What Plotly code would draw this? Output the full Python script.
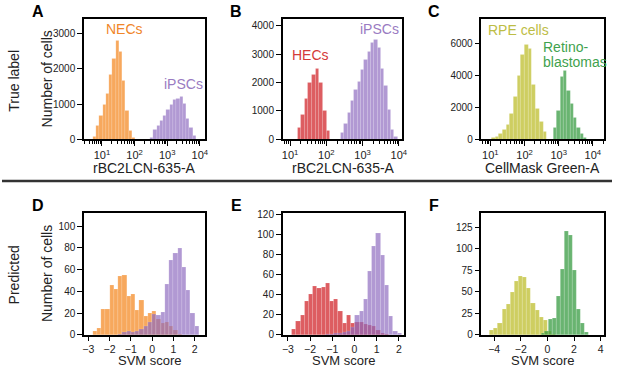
import math
import plotly.graph_objects as go

# ---------------- data ----------------
# Panel A  (x = log10 rBC2LCN-635-A)
a_nec_start, a_nec_width = 0.72, 0.10
a_nec_counts = [80, 380, 680, 980, 1300, 1850, 2300, 2800, 2500, 1680, 820, 250, 60]
a_ipsc_start, a_ipsc_width = 2.48, 0.10
a_ipsc_counts = [60, 280, 400, 520, 660, 840, 980, 1120, 1170, 1210, 1000, 600, 330, 110]

# Panel B  (x = log10 rBC2LCN-635-A)
b_hec_start, b_hec_width = 1.20, 0.10
b_hec_counts = [420, 870, 1440, 1990, 2280, 2490, 2010, 1010, 300]
b_ipsc_start, b_ipsc_width = 2.40, 0.092
b_ipsc_counts = [250, 550, 950, 1350, 1750, 2050, 2450, 2800, 3100, 3400, 3520, 3250,
                 2500, 1900, 1050, 350, 90]

# Panel C  (x = log10 CellMask Green-A)
c_rpe_start, c_rpe_width = 1.03, 0.108
c_rpe_counts = [90, 180, 340, 600, 950, 1600, 2700, 4000, 5300, 5950, 5650, 3400, 1950, 1100, 480]
c_rb_start, c_rb_width = 2.85, 0.097
c_rb_counts = [740, 1800, 3950, 4300, 3080, 2220, 1370, 720, 340, 120]

# Panel D  (SVM score)
d_nec_start, d_nec_width = -2.8, 0.2
d_nec_counts = [3, 6, 24, 24, 46, 42, 54, 55, 36, 37, 23, 32, 17, 20, 22, 14, 11, 12, 8, 4, 1]
d_ipsc_start, d_ipsc_width = -1.6, 0.2
d_ipsc_counts = [1, 2, 3, 2, 3, 5, 8, 12, 19, 18, 21, 47, 69, 75, 80, 62, 41, 20, 8]

# Panel E  (SVM score)
e_hec_start, e_hec_width = -2.82, 0.19
e_hec_counts = [6, 14, 20, 33, 40, 48, 46, 47, 51, 33, 35, 24, 12, 20, 12, 13, 13, 11, 10, 9, 5, 2, 1]
e_ipsc_start, e_ipsc_width = -1.30, 0.19
e_ipsc_counts = [1, 1, 2, 2, 3, 4, 8, 20, 24, 35, 63, 88, 101, 79, 49, 19, 4, 2]

# Panel F  (SVM score)
f_rpe_start, f_rpe_width = -4.34, 0.31
f_rpe_counts = [5, 8, 14, 30, 36, 49, 62, 68, 67, 54, 37, 29, 20, 17, 4, 1]
f_rb_start, f_rb_width = -0.48, 0.30
f_rb_counts = [2, 4, 18, 19, 45, 76, 120, 115, 75, 30, 14, 3]

log_tick_vals = [1, 2, 3, 4]
log_tick_text = ["10<sup>1</sup>", "10<sup>2</sup>", "10<sup>3</sup>", "10<sup>4</sup>"]

# ---------------- styling ----------------
W, H = 617, 372
FONT = "Arial, Liberation Sans, sans-serif"
ORANGE = "rgba(244,140,42,0.76)"
PURPLE = "rgba(140,104,190,0.68)"
RED = "rgba(212,48,52,0.78)"
OLIVE = "rgba(192,192,52,0.78)"
GREEN = "rgba(52,154,64,0.74)"


def fx(px):
    return px / W


def fy(py):
    return 1 - py / H


def bars(start, width, counts, color, xa, ya):
    xs = [start + (i + 0.5) * width for i in range(len(counts))]
    return go.Bar(x=xs, y=counts, width=width,
                  marker=dict(color=color, line=dict(width=0.4, color="rgba(255,255,255,0.35)")),
                  xaxis=xa, yaxis=ya, showlegend=False, hoverinfo="x+y")


fig = go.Figure()
fig.add_trace(bars(a_nec_start, a_nec_width, a_nec_counts, ORANGE, "x", "y"))
fig.add_trace(bars(a_ipsc_start, a_ipsc_width, a_ipsc_counts, PURPLE, "x", "y"))
fig.add_trace(bars(b_hec_start, b_hec_width, b_hec_counts, RED, "x2", "y2"))
fig.add_trace(bars(b_ipsc_start, b_ipsc_width, b_ipsc_counts, PURPLE, "x2", "y2"))
fig.add_trace(bars(c_rpe_start, c_rpe_width, c_rpe_counts, OLIVE, "x3", "y3"))
fig.add_trace(bars(c_rb_start, c_rb_width, c_rb_counts, GREEN, "x3", "y3"))
fig.add_trace(bars(d_nec_start, d_nec_width, d_nec_counts, ORANGE, "x4", "y4"))
fig.add_trace(bars(d_ipsc_start, d_ipsc_width, d_ipsc_counts, PURPLE, "x4", "y4"))
fig.add_trace(bars(e_hec_start, e_hec_width, e_hec_counts, RED, "x5", "y5"))
fig.add_trace(bars(e_ipsc_start, e_ipsc_width, e_ipsc_counts, PURPLE, "x5", "y5"))
fig.add_trace(bars(f_rpe_start, f_rpe_width, f_rpe_counts, OLIVE, "x6", "y6"))
fig.add_trace(bars(f_rb_start, f_rb_width, f_rb_counts, GREEN, "x6", "y6"))

base = dict(showline=True, linecolor="black", linewidth=1.6, mirror=True, ticks="outside",
            ticklen=5, tickwidth=1.4, tickcolor="black", showgrid=False, zeroline=False,
            tickfont=dict(family=FONT, size=10, color="#222"), fixedrange=True)

minor_vals = [math.log10(k * 10 ** n) for n in range(0, 5) for k in range(2, 10)]


def logx(domain, rng):
    d = dict(base)
    d.update(domain=domain, range=rng, tickmode="array", tickvals=log_tick_vals, ticktext=log_tick_text,
             tickfont=dict(family=FONT, size=11, color="#222"),
             minor=dict(tickmode="array", tickvals=minor_vals, ticks="outside", ticklen=2.5,
                        tickwidth=1, tickcolor="black"))
    return d


def linx(domain, rng, dtick):
    d = dict(base)
    d.update(domain=domain, range=rng, dtick=dtick, tick0=0, ticklen=4,
             tickfont=dict(family=FONT, size=10.5, color="#222"))
    return d


def liny(domain, rng, dtick, anchor):
    d = dict(base)
    d.update(domain=domain, range=rng, dtick=dtick, tick0=0, anchor=anchor)
    return d


top = [fy(139), fy(15)]
bot = [fy(340), fy(215)]

fig.update_layout(
    width=W, height=H, margin=dict(l=0, r=0, t=0, b=0),
    paper_bgcolor="white", plot_bgcolor="white", barmode="overlay", bargap=0,
    font=dict(family=FONT, color="#222"),
    xaxis=dict(logx([fx(83), fx(205)], [0.45, 4.15]), anchor="y"),
    yaxis=liny(top, [0, 3430], 1000, "x"),
    xaxis2=dict(logx([fx(284), fx(405)], [0.8, 4.1]), anchor="y2"),
    yaxis2=liny(top, [0, 4260], 1000, "x2"),
    xaxis3=dict(logx([fx(485), fx(609)], [0.74, 4.33]), anchor="y3"),
    yaxis3=liny(top, [0, 7560], 2000, "x3"),
    xaxis4=dict(linx([fx(83), fx(205)], [-3.2, 2.47], 1), anchor="y4"),
    yaxis4=liny(bot, [0, 112], 20, "x4"),
    xaxis5=dict(linx([fx(284), fx(407)], [-3.23, 2.25], 1), anchor="y5"),
    yaxis5=liny(bot, [0, 121], 20, "x5"),
    xaxis6=dict(linx([fx(485), fx(609)], [-4.95, 4.26], 2), anchor="y6"),
    yaxis6=liny(bot, [0, 141], 25, "x6"),
)

ann = []


def txt(x, y, s, size=14, color="#222", bold=False, angle=0, xanchor="center"):
    ann.append(dict(x=fx(x), y=fy(y), xref="paper", yref="paper", text=("<b>%s</b>" % s) if bold else s,
                    showarrow=False, font=dict(family=FONT, size=size, color=color), textangle=angle,
                    xanchor=xanchor, yanchor="middle"))


# panel letters
for lx, ly, s in [(36, 8, "A"), (237, 8, "B"), (437, 8, "C"), (36, 207, "D"), (237, 207, "E"), (437, 207, "F")]:
    txt(lx, ly, s, size=16, color="black", bold=True)

# row labels
txt(12, 79, "True label", size=14, angle=-90)
txt(12, 278, "Predicted", size=14, angle=-90)

# axis titles
txt(45, 77, "Number of cells", size=14, angle=-90)
txt(45, 277, "Number of cells", size=14, angle=-90)
txt(144, 169, "rBC2LCN-635-A", size=14)
txt(345, 169, "rBC2LCN-635-A", size=14)
txt(547, 169, "CellMask Green-A", size=14)
txt(150, 366.5, "SVM score", size=13)
txt(346, 366.5, "SVM score", size=13)
txt(547, 366.5, "SVM score", size=13)

# in-plot labels
txt(124, 26, "NECs", size=14, color="#F0862A")
txt(184, 82, "iPSCs", size=14, color="#9A7BC2")
txt(382, 26, "iPSCs", size=14, color="#9A7BC2")
txt(312, 52, "HECs", size=14, color="#D43A3A")
txt(522, 27, "RPE cells", size=14, color="#BDBD45")
txt(545, 44, "Retino-", size=14, color="#3FA24E", xanchor="left")
txt(545, 60, "blastomas", size=14, color="#3FA24E", xanchor="left")

fig.update_layout(annotations=ann)
fig.add_shape(type="line", xref="paper", yref="paper", x0=0, x1=1, y0=fy(182), y1=fy(182),
              line=dict(color="#333", width=2.5))

fig.write_html("out.html", config={"displayModeBar": False},
               post_script="document.body.style.margin='0';document.body.style.padding='0';"
                           "document.body.style.overflow='hidden';")
